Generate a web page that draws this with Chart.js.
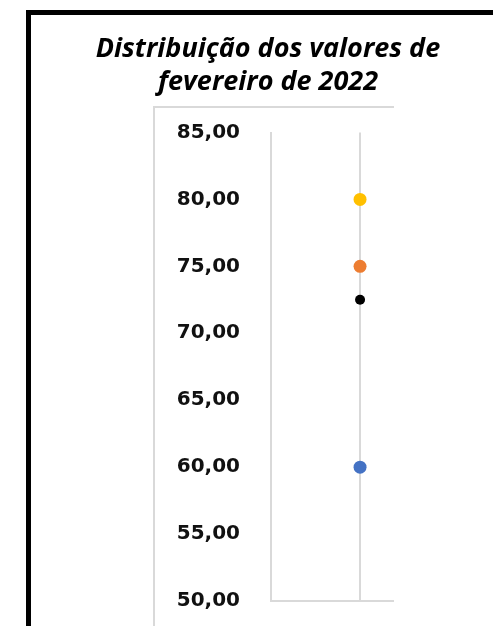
<!DOCTYPE html>
<html>
<head>
<meta charset="utf-8">
<script src="https://cdn.jsdelivr.net/npm/chart.js@4.4.3/dist/chart.umd.min.js"></script>
<style>
  html, body { margin: 0; padding: 0; background: #fff; width: 493px; height: 626px; overflow: hidden; }
  #frame { position: absolute; left: 26px; top: 10px; width: 600px; height: 700px; border-left: 5px solid #000; border-top: 5px solid #000; }
  #plotframe { position: absolute; left: 153px; top: 106px; width: 239px; height: 600px; border-left: 2px solid #d9d9d9; border-top: 2px solid #d9d9d9; }
  #chart { position: absolute; left: 0; top: 0; }
</style>
</head>
<body>
<div id="frame"></div>
<div id="plotframe"></div>
<canvas id="chart" width="493" height="626"></canvas>
<script>
// chart data
const titleLines = ['Distribuição dos valores de', 'fevereiro de 2022'];
const pointX = [1, 1, 1, 1];
const pointY = [80.0, 75.0, 72.5, 60.0];
const pointColors = ['#ffc000', '#ed7d31', '#000000', '#4472c4'];
const pointSizes = [6.5, 6.5, 5, 6.5];
const yMin = 50;
const yMax = 85;
const yStep = 5;

const axisGray = '#d9d9d9';

const ctx = document.getElementById('chart');
new Chart(ctx, {
    type: 'scatter',
    data: {
        datasets: [{
            data: pointX.map((x, i) => ({ x: x, y: pointY[i] })),
            pointBackgroundColor: pointColors,
            pointBorderColor: pointColors,
            pointRadius: pointSizes,
            pointBorderWidth: 0,
        }],
    },
    options: {
        responsive: false,
        animation: false,
        layout: { padding: { left: 43, right: 0, top: 0, bottom: 25 } },
        plugins: {
            legend: { display: false },
            tooltip: { enabled: false },
            title: {
                display: true,
                text: titleLines,
                color: '#000',
                font: { family: "'Open Sans', 'DejaVu Sans', sans-serif", size: 27, weight: 'bold', style: 'italic', lineHeight: 1.25 },
                padding: { top: 32, bottom: 33 },
            },
        },
        scales: {
            x: {
                type: 'linear',
                min: 0,
                max: 1.37,
                afterBuildTicks: (scale) => { scale.ticks = [{ value: 1 }]; },
                afterFit: (scale) => { scale.height = 0; },
                ticks: { display: false },
                grid: { color: axisGray, lineWidth: 2, drawTicks: false },
                border: { color: axisGray, width: 2 },
            },
            y: {
                min: yMin,
                max: yMax,
                // fixed width; the label gap should not add extra space above/below the plot
                afterFit: (scale) => {
                    scale.width = 228;
                    scale.paddingTop = 0;
                    scale.paddingBottom = 0;
                },
                ticks: {
                    stepSize: yStep,
                    padding: 31,
                    color: '#111',
                    font: { family: "'DejaVu Sans', sans-serif", size: 20, weight: 'bold' },
                    callback: (v) => v.toFixed(2).replace('.', ','),
                },
                grid: { display: false, drawTicks: false },
                border: { color: axisGray, width: 2 },
            },
            // empty right-hand axis that only reserves the cropped-off part of the plot
            yRight: {
                position: 'right',
                min: yMin,
                max: yMax,
                afterFit: (scale) => { scale.width = 100; },
                ticks: { display: false },
                grid: { display: false, drawTicks: false },
                border: { display: false },
            },
        },
    },
});
</script>
</body>
</html>
